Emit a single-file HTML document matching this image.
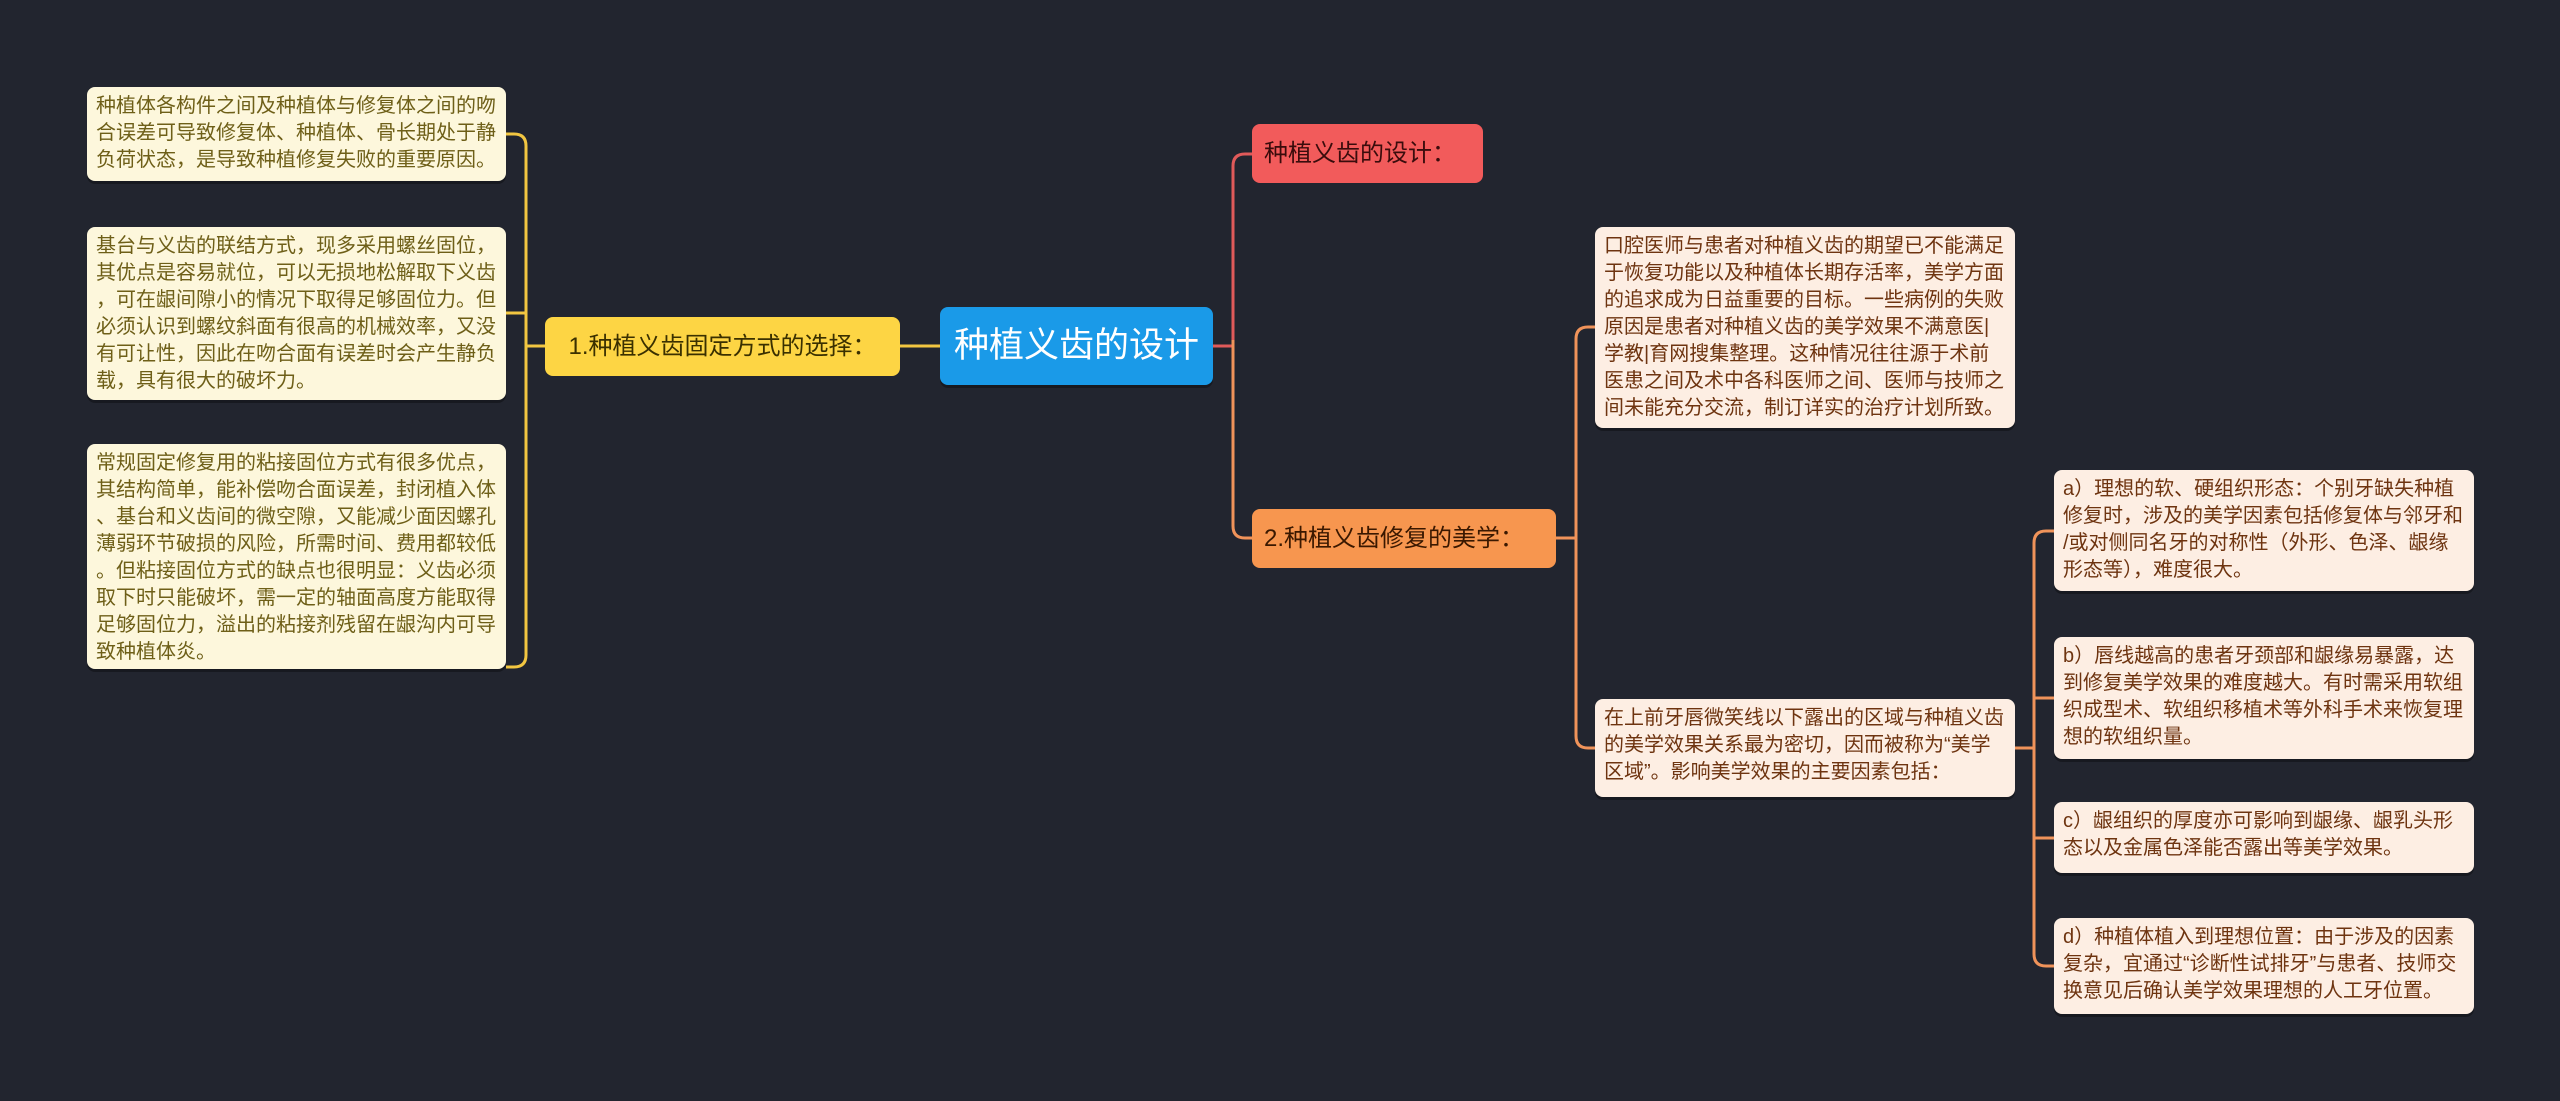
<!DOCTYPE html>
<html><head><meta charset="utf-8"><style>
body{margin:0;width:2560px;height:1101px;background:#22252f;overflow:hidden;position:relative;font-family:"Liberation Sans","Noto Sans CJK SC",sans-serif}
.n{position:absolute;box-sizing:border-box;border-radius:8px}
.leafL,.leafR{font-size:20px;line-height:27px;padding:6px 9px;box-shadow:0 3px 0 rgba(0,0,0,.3);line-break:anywhere;word-break:break-all}
.leafL{background:#fdf7dc;color:#6e5f18}
.leafR{background:#fdeee3;color:#6e3410}
svg{position:absolute;left:0;top:0}
</style></head><body>
<svg width="2560" height="1101" fill="none" stroke-width="3">
<g stroke="#f2c641">
<path d="M545 346 H526"/>
<path d="M506 134 H514 Q526 134 526 146 V655 Q526 667 514 667 H506"/>
<path d="M506 313 H526"/>
<path d="M900 346 H940"/>
</g>
<path stroke="#e05a5a" d="M1213 346 H1233 V166 Q1233 154 1245 154 H1252"/>
<g stroke="#f0935a">
<path d="M1233 340 V526 Q1233 538 1245 538 H1252"/>
<path d="M1556 538 H1576"/>
<path d="M1595 327 H1588 Q1576 327 1576 339 V736 Q1576 748 1588 748 H1595"/>
<path d="M2015 748 H2034"/>
<path d="M2054 531 H2046 Q2034 531 2034 543 V954 Q2034 966 2046 966 H2054"/>
<path d="M2034 698 H2054 M2034 838 H2054"/>
</g>
</svg>
<div class="n" style="left:940px;top:307px;width:273px;height:78px;background:#1a9ae8;color:#fff;font-size:35px;line-height:78px;text-align:center;box-shadow:0 3px 0 rgba(0,0,0,.3)">种植义齿的设计</div>
<div class="n" style="left:545px;top:317px;width:355px;height:59px;background:#fdd544;color:#3a3000;font-size:24px;line-height:59px;text-align:center">1.种植义齿固定方式的选择：</div>
<div class="n leafL" style="left:87px;top:87px;width:419px;height:94px">种植体各构件之间及种植体与修复体之间的吻合误差可导致修复体、种植体、骨长期处于静负荷状态，是导致种植修复失败的重要原因。</div>
<div class="n leafL" style="left:87px;top:227px;width:419px;height:173px">基台与义齿的联结方式，现多采用螺丝固位，其优点是容易就位，可以无损地松解取下义齿，可在龈间隙小的情况下取得足够固位力。但必须认识到螺纹斜面有很高的机械效率，又没有可让性，因此在吻合面有误差时会产生静负载，具有很大的破坏力。</div>
<div class="n leafL" style="left:87px;top:444px;width:419px;height:225px">常规固定修复用的粘接固位方式有很多优点，其结构简单，能补偿吻合面误差，封闭植入体、基台和义齿间的微空隙，又能减少面因螺孔薄弱环节破损的风险，所需时间、费用都较低。但粘接固位方式的缺点也很明显：义齿必须取下时只能破坏，需一定的轴面高度方能取得足够固位力，溢出的粘接剂残留在龈沟内可导致种植体炎。</div>
<div class="n" style="left:1252px;top:124px;width:231px;height:59px;background:#f25b5b;color:#3a0c0c;font-size:24px;line-height:59px;padding-left:12px">种植义齿的设计：</div>
<div class="n" style="left:1252px;top:509px;width:304px;height:59px;background:#f7964f;color:#3a1800;font-size:24px;line-height:59px;padding-left:12px">2.种植义齿修复的美学：</div>
<div class="n leafR" style="left:1595px;top:227px;width:420px;height:201px">口腔医师与患者对种植义齿的期望已不能满足于恢复功能以及种植体长期存活率，美学方面的追求成为日益重要的目标。一些病例的失败原因是患者对种植义齿的美学效果不满意医|学教|育网搜集整理。这种情况往往源于术前医患之间及术中各科医师之间、医师与技师之间未能充分交流，制订详实的治疗计划所致。</div>
<div class="n leafR" style="left:1595px;top:699px;width:420px;height:98px">在上前牙唇微笑线以下露出的区域与种植义齿的美学效果关系最为密切，因而被称为“美学区域”。影响美学效果的主要因素包括：</div>
<div class="n leafR" style="left:2054px;top:470px;width:420px;height:121px">a）理想的软、硬组织形态：个别牙缺失种植修复时，涉及的美学因素包括修复体与邻牙和/或对侧同名牙的对称性（外形、色泽、龈缘形态等），难度很大。</div>
<div class="n leafR" style="left:2054px;top:637px;width:420px;height:122px">b）唇线越高的患者牙颈部和龈缘易暴露，达到修复美学效果的难度越大。有时需采用软组织成型术、软组织移植术等外科手术来恢复理想的软组织量。</div>
<div class="n leafR" style="left:2054px;top:802px;width:420px;height:71px">c）龈组织的厚度亦可影响到龈缘、龈乳头形态以及金属色泽能否露出等美学效果。</div>
<div class="n leafR" style="left:2054px;top:918px;width:420px;height:96px">d）种植体植入到理想位置：由于涉及的因素复杂，宜通过“诊断性试排牙”与患者、技师交换意见后确认美学效果理想的人工牙位置。</div>
</body></html>
